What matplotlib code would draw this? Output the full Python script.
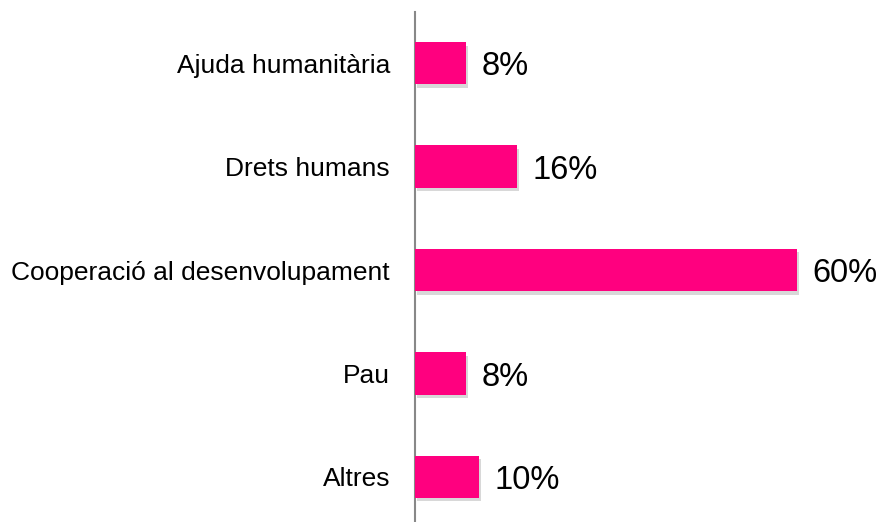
import matplotlib.pyplot as plt
import matplotlib.patheffects as pe

plt.rcParams['font.family'] = ['Liberation Sans', 'DejaVu Sans']

categories = ['Ajuda humanitària', 'Drets humans', 'Cooperació al desenvolupament', 'Pau', 'Altres']
values = [8, 16, 60, 8, 10]

fig = plt.figure(figsize=(8.78, 5.22), dpi=100)
ax = fig.add_axes([0.4727, -0.0125, 0.522, 0.9904])

pos = list(range(len(categories)))
bars = ax.barh(pos, values, height=0.41, color='#FF007F', zorder=3)
for b in bars:
    b.set_path_effects([pe.SimplePatchShadow(offset=(1.5, -2.5), shadow_rgbFace='#aaaaaa', alpha=0.45),
                        pe.Normal()])

# value labels, nudged a bit below bar centre like the original
for p, v in zip(pos, values):
    ax.text(v + 2.5, p + 0.035, f'{v}%', va='center', ha='left', fontsize=23.5, color='black')

ax.set_yticks(pos)
ax.set_yticklabels(categories, fontsize=19)
ax.tick_params(axis='y', length=0, pad=18)
ax.set_xticks([])
ax.set_ylim(len(categories) - 0.5, -0.5)
ax.set_xlim(0, 72)
for s in ['top', 'right', 'bottom']:
    ax.spines[s].set_visible(False)
ax.spines['left'].set_color('#888888')
ax.spines['left'].set_linewidth(1.5)

fig.savefig('out.png', dpi=100)
